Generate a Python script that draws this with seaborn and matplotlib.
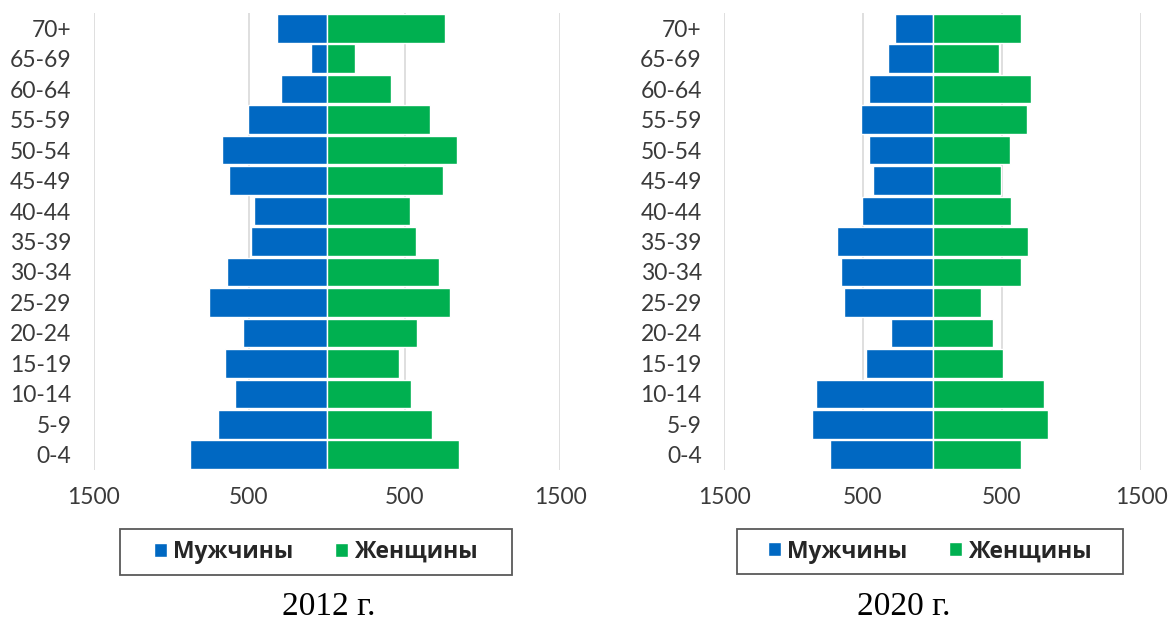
import numpy as np
import pandas as pd
import matplotlib
matplotlib.use("Agg")
import matplotlib.pyplot as plt
from matplotlib.patches import Patch, Rectangle
from matplotlib.ticker import FixedLocator, FuncFormatter
import seaborn as sns

# age groups, top of the pyramid first
ages = ['70+', '65-69', '60-64', '55-59', '50-54', '45-49', '40-44', '35-39',
        '30-34', '25-29', '20-24', '15-19', '10-14', '5-9', '0-4']

men_2012 = [320, 100, 295, 505, 675, 630, 470, 485, 640, 755, 540, 655, 590, 700, 880]
women_2012 = [760, 180, 415, 665, 835, 745, 535, 575, 725, 795, 580, 465, 545, 675, 850]

men_2020 = [270, 320, 460, 515, 460, 430, 510, 685, 660, 635, 295, 480, 835, 870, 735]
women_2020 = [635, 480, 710, 680, 555, 490, 565, 690, 635, 350, 435, 505, 805, 830, 635]

years = ['2012 г.', '2020 г.']
sexes = ['Мужчины', 'Женщины']
x_ticks = [-1500, -500, 500, 1500]

BLUE = '#0068C2'
GREEN = '#00B050'
GRID = '#D9D9D9'
TEXT = '#3A3A3A'


def make_frame(men, women):
    """Long table: men go to the left as negative numbers"""
    df_m = pd.DataFrame({'age': ages, 'sex': sexes[0], 'value': -np.array(men)})
    df_w = pd.DataFrame({'age': ages, 'sex': sexes[1], 'value': np.array(women)})
    return pd.concat([df_m, df_w], ignore_index=True)


sns.set_theme(style='white')
plt.rcParams['font.family'] = ['Lato', 'DejaVu Sans']

fig = plt.figure(figsize=(11.69, 6.26), dpi=100)

# axes boxes in figure fractions (left, bottom, width, height)
boxes = [
    [93.5 / 1169, 1 - 470 / 626, 466.5 / 1169, 457 / 626],
    [724 / 1169, 1 - 470 / 626, 417 / 1169, 457 / 626],
]
legend_boxes = [(120, 529, 392, 46), (737, 529, 386, 45)]
title_pos = [(329, 607), (904, 607)]

frames = [make_frame(men_2012, women_2012), make_frame(men_2020, women_2020)]

for i, df in enumerate(frames):
    ax = fig.add_axes(boxes[i])
    sns.barplot(data=df, x='value', y='age', hue='sex', order=ages,
                hue_order=sexes, palette=[BLUE, GREEN], saturation=1,
                dodge=False, width=0.94, edgecolor='white', linewidth=1.0,
                errorbar=None, legend=False, orient='h', ax=ax)

    ax.set_xlim(-1500, 1500)
    ax.set_ylim(len(ages) - 0.5, -0.5)
    ax.xaxis.set_major_locator(FixedLocator(x_ticks))
    ax.xaxis.set_major_formatter(FuncFormatter(lambda v, p: f'{abs(int(v))}'))
    ax.grid(axis='x', color=GRID, linewidth=1.2)
    ax.grid(axis='y', visible=False)
    ax.set_axisbelow(True)
    for s in ax.spines.values():
        s.set_visible(False)
    ax.set_xlabel('')
    ax.set_ylabel('')
    ax.tick_params(axis='y', length=0, pad=16, labelsize=16.5, labelcolor=TEXT)
    ax.tick_params(axis='x', length=0, pad=12, labelsize=16.5, labelcolor=TEXT)

    # legend with a drawn frame around it
    lx, ly, lw, lh = legend_boxes[i]
    fig.patches.append(Rectangle((lx / 1169, 1 - (ly + lh) / 626), lw / 1169, lh / 626,
                                 transform=fig.transFigure, fill=False,
                                 edgecolor='#595959', linewidth=1.3))
    handles = [Patch(facecolor=BLUE), Patch(facecolor=GREEN)]
    fig.legend(handles, sexes, loc='center', ncol=2, frameon=False,
               bbox_to_anchor=((lx + lw / 2) / 1169, 1 - (ly + lh / 2) / 626),
               handlelength=0.55, handleheight=0.55, handletextpad=0.3,
               columnspacing=1.8,
               prop={'family': ['Open Sans', 'DejaVu Sans'], 'weight': 'bold', 'size': 16.5})

    tx, ty = title_pos[i]
    fig.text(tx / 1169, 1 - ty / 626, years[i], ha='center', va='center',
             family=['Liberation Serif', 'DejaVu Serif'], fontsize=24, color='black')

fig.savefig('out.png', dpi=100)
